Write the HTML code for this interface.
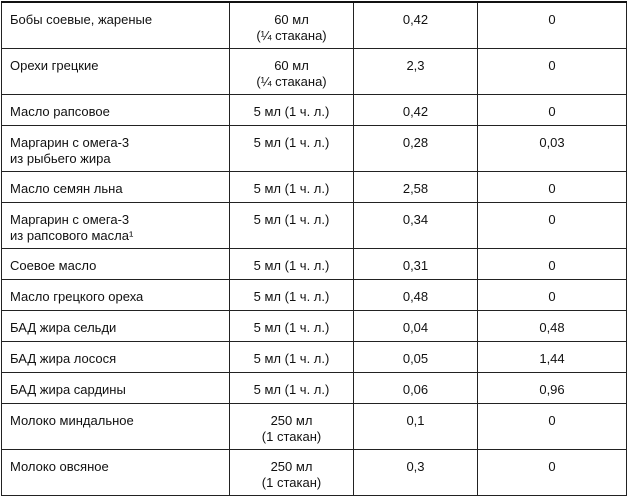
<!DOCTYPE html>
<html><head><meta charset="utf-8"><style>
body{margin:0;width:627px;height:497px;background:#fff;overflow:hidden;font-family:"Liberation Sans","DejaVu Sans",sans-serif;font-size:13px;color:#111}
table{position:absolute;left:1px;top:1px;border-collapse:collapse;width:625px;table-layout:fixed}
td{border:1px solid #222;vertical-align:top;padding:9px 8px 0 8px;line-height:16px;box-sizing:border-box}
tr:first-child td{border-top:2px solid #111}
td.c{text-align:center;padding-left:2px;padding-right:2px}
tr.s td{height:31px}
tr.d td{height:46px}
</style></head><body>
<table>
<colgroup><col style="width:228px"><col style="width:124px"><col style="width:124px"><col style="width:149px"></colgroup>
<tr class="d"><td>Бобы соевые, жареные</td><td class="c">60 мл<br>(¼ стакана)</td><td class="c">0,42</td><td class="c">0</td></tr>
<tr class="d"><td>Орехи грецкие</td><td class="c">60 мл<br>(¼ стакана)</td><td class="c">2,3</td><td class="c">0</td></tr>
<tr class="s"><td>Масло рапсовое</td><td class="c">5 мл (1 ч. л.)</td><td class="c">0,42</td><td class="c">0</td></tr>
<tr class="d"><td>Маргарин с омега-3<br>из рыбьего жира</td><td class="c">5 мл (1 ч. л.)</td><td class="c">0,28</td><td class="c">0,03</td></tr>
<tr class="s"><td>Масло семян льна</td><td class="c">5 мл (1 ч. л.)</td><td class="c">2,58</td><td class="c">0</td></tr>
<tr class="d"><td>Маргарин с омега-3<br>из рапсового масла¹</td><td class="c">5 мл (1 ч. л.)</td><td class="c">0,34</td><td class="c">0</td></tr>
<tr class="s"><td>Соевое масло</td><td class="c">5 мл (1 ч. л.)</td><td class="c">0,31</td><td class="c">0</td></tr>
<tr class="s"><td>Масло грецкого ореха</td><td class="c">5 мл (1 ч. л.)</td><td class="c">0,48</td><td class="c">0</td></tr>
<tr class="s"><td>БАД жира сельди</td><td class="c">5 мл (1 ч. л.)</td><td class="c">0,04</td><td class="c">0,48</td></tr>
<tr class="s"><td>БАД жира лосося</td><td class="c">5 мл (1 ч. л.)</td><td class="c">0,05</td><td class="c">1,44</td></tr>
<tr class="s"><td>БАД жира сардины</td><td class="c">5 мл (1 ч. л.)</td><td class="c">0,06</td><td class="c">0,96</td></tr>
<tr class="d"><td>Молоко миндальное</td><td class="c">250 мл<br>(1 стакан)</td><td class="c">0,1</td><td class="c">0</td></tr>
<tr class="d"><td>Молоко овсяное</td><td class="c">250 мл<br>(1 стакан)</td><td class="c">0,3</td><td class="c">0</td></tr>
</table>
</body></html>
